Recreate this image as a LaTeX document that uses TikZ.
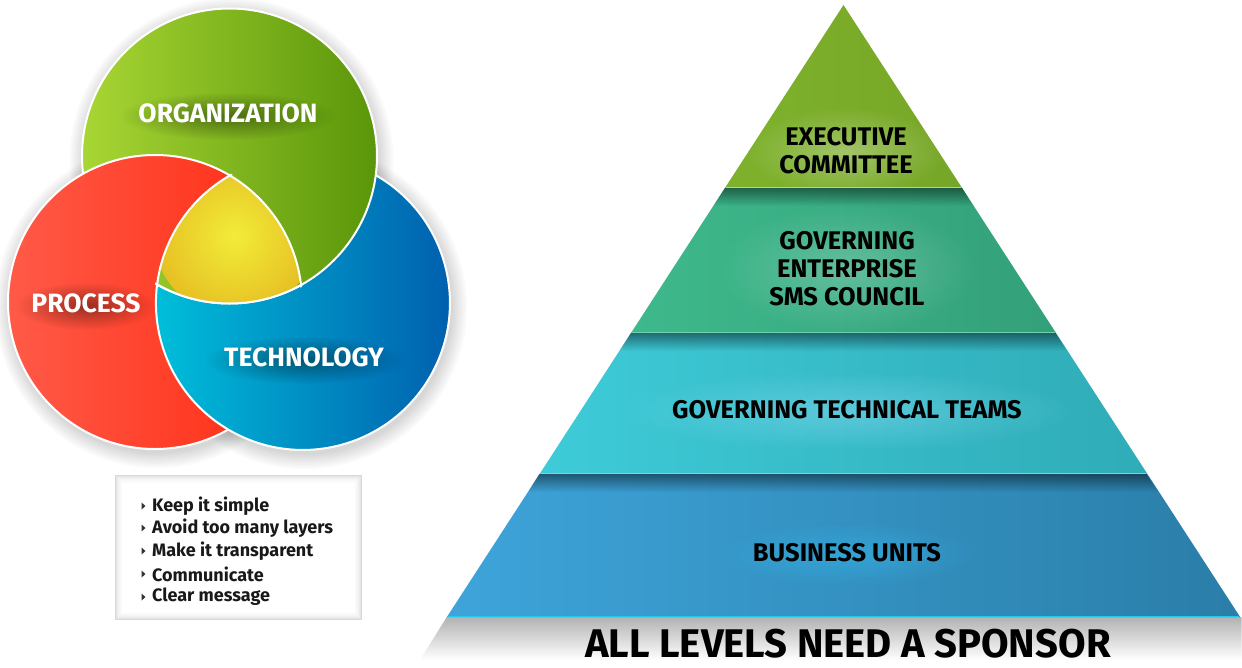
\documentclass[tikz,border=0pt]{standalone}
\usepackage{fontspec}
\setmainfont{Fira Sans}
\usetikzlibrary{fadings}
\definecolor{gA}{HTML}{A8D634}
\definecolor{gB}{HTML}{5A960A}
\definecolor{rA}{HTML}{FF5A48}
\definecolor{rB}{HTML}{FF2A10}
\definecolor{bA}{HTML}{00BEDA}
\definecolor{bB}{HTML}{0060AE}
\definecolor{yA}{HTML}{F2EC38}
\definecolor{yB}{HTML}{E6C024}
\definecolor{exL}{HTML}{7EB22C}
\definecolor{exM}{HTML}{98CA3E}
\definecolor{exR}{HTML}{76A626}
\definecolor{geL}{HTML}{3EB98C}
\definecolor{geM}{HTML}{42C292}
\definecolor{geR}{HTML}{33A079}
\definecolor{gtL}{HTML}{3ECBD8}
\definecolor{gtM}{HTML}{40CDDA}
\definecolor{gtR}{HTML}{2FACB7}
\definecolor{buL}{HTML}{3EA4DA}
\definecolor{buM}{HTML}{3898CC}
\definecolor{buR}{HTML}{2A7EA8}
\tikzfading[name=glowfade, inner color=transparent!0, outer color=transparent!100]
\tikzfading[name=topdark, top color=transparent!0, bottom color=transparent!100]
\begin{document}
\begin{tikzpicture}[x=1pt,y=-1pt,
  vlabel/.style={text=white, font=\bfseries\fontsize{26.5}{26.5}\selectfont, inner sep=0pt},
  plabel/.style={text=black, font=\bfseries\fontsize{25.5}{28}\selectfont, align=center, inner sep=0pt},
  listtext/.style={anchor=west, font=\bfseries\fontsize{18}{18}\selectfont, text=black!90, inner sep=0pt},
  outl/.style={draw=white, line width=2pt},
  bullet/.style={fill=black!80},
  hilite/.style={line width=1.5pt}]
\useasboundingbox (0,0) rectangle (1242,667);
\fill[white] (0,0) rectangle (1242,667);
\coordinate (cg) at (229.5,156);
\coordinate (cr) at (155,302);
\coordinate (cb) at (303,303);
\coordinate (bgtop) at (375.75,175.25);
% soft shadows of the circles
\foreach \cx/\cy in {229.5/156,155/302,303/303}{
  \foreach \r in {148,150,...,162}
    \fill[black, opacity=0.02] (\cx+2,\cy+4) circle (\r pt);
}
% green, red, blue
\shade[left color=gA, right color=gB] (cg) circle (147.5pt);
\draw[outl] (cg) circle (147.5pt);
\shade[left color=rA, right color=rB] (cr) circle (147pt);
\draw[outl] (cr) circle (147pt);
\shade[left color=bA, right color=bB] (cb) circle (147pt);
\begin{scope}
  \clip (cb) circle (147.8pt);
  \shade[left color=gA, right color=gB] (cg) circle (147.5pt);
  \draw[outl] (cg) circle (147.5pt);
\end{scope}
% blue outline only where blue is not under green
\draw[outl] (bgtop) arc[start angle=60.3, end angle=-187.2, radius=147pt];
\begin{scope}
  \clip (cb) circle (147pt);
  \clip (cr) circle (147pt);
  \clip (cg) circle (147.5pt);
  \shade[inner color=yA, outer color=yB] (234,236) circle (80pt);
\end{scope}
\begin{scope}
  \clip (cb) circle (149pt);
  \clip (cg) circle (149.5pt);
  \draw[outl] (cr) circle (147pt);
\end{scope}
\begin{scope}
  \clip (cr) circle (149pt);
  \clip (cg) circle (149.5pt);
  \draw[outl] (cb) circle (147pt);
\end{scope}
\begin{scope}
  \clip (cr) circle (149pt);
  \clip (cb) circle (149pt);
  \draw[outl] (cg) circle (147.5pt);
\end{scope}
% label glows
\fill[black, opacity=0.4, path fading=glowfade] (228,116) ellipse (108pt and 24pt);
\fill[black, opacity=0.4, path fading=glowfade] (86,306) ellipse (70pt and 24pt);
\fill[black, opacity=0.4, path fading=glowfade] (304,360) ellipse (100pt and 24pt);
\node[vlabel] (org) at (228,113) {ORGANIZATION};
\node[vlabel] (proc) at (86,303) {PROCESS};
\node[vlabel] (tech) at (304,357) {TECHNOLOGY};
% list box
\fill[gray!30] (115,475) rectangle (362,620);
\foreach \i in {1,...,6}
  \fill[white, opacity=0.3] (115+\i,475+\i) rectangle (362-\i,620-\i);
\fill[white] (122,483) rectangle (355,613);
\foreach \yy/\nm/\txt in {506/l1/Keep it simple, 528/l2/Avoid too many layers, 551/l3/Make it transparent, 574/l4/Communicate, 597/l5/Clear message}{
  \fill[bullet] (141.5,\yy-3.5) -- (145.5,\yy) -- (141.5,\yy+3.5) -- cycle;
  \node[listtext] (\nm) at (152,\yy) {\txt};
}
% shadow under pyramid
\fill[black, opacity=0.3, path fading=topdark] (446.9,617) -- (1242,617) -- (1242,660) -- (420,660) -- cycle;
% pyramid layers
\shade[left color=exL, middle color=exM, right color=exR] (843.5,5) -- (962.1,188) -- (724.9,188) -- cycle;
\shade[left color=geL, middle color=geM, right color=geR] (724.9,188) -- (962.1,188) -- (1056,333) -- (631,333) -- cycle;
\shade[left color=gtL, middle color=gtM, right color=gtR] (631,333) -- (1056,333) -- (1147.4,474) -- (539.6,474) -- cycle;
\shade[left color=buL, middle color=buM, right color=buR] (539.6,474) -- (1147.4,474) -- (1240.1,617) -- (446.9,617) -- cycle;
% label glows on pyramid (clipped to each layer)
\begin{scope}
  \clip (843.5,5) -- (962.1,188) -- (724.9,188) -- cycle;
  \fill[white, opacity=0.3, path fading=glowfade] (846,152) ellipse (100pt and 45pt);
\end{scope}
\begin{scope}
  \clip (724.9,188) -- (962.1,188) -- (1056,333) -- (631,333) -- cycle;
  \fill[white, opacity=0.22, path fading=glowfade] (847,269) ellipse (130pt and 65pt);
\end{scope}
\begin{scope}
  \clip (631,333) -- (1056,333) -- (1147.4,474) -- (539.6,474) -- cycle;
  \fill[cyan!40!white, opacity=0.4, path fading=glowfade] (847,411) ellipse (230pt and 40pt);
\end{scope}
\begin{scope}
  \clip (539.6,474) -- (1147.4,474) -- (1240.1,617) -- (446.9,617) -- cycle;
  \fill[cyan!80!white, opacity=0.45, path fading=glowfade] (847,554) ellipse (130pt and 32pt);
\end{scope}
% top shadows of layers
\fill[black, opacity=0.45, path fading=topdark] (724.9,188) -- (962.1,188) -- (973.8,206) -- (713.2,206) -- cycle;
\fill[black, opacity=0.45, path fading=topdark] (631,333) -- (1056,333) -- (1067.7,351) -- (619.3,351) -- cycle;
\fill[black, opacity=0.45, path fading=topdark] (539.6,474) -- (1147.4,474) -- (1159.1,492) -- (527.9,492) -- cycle;
% highlight lines
\draw[hilite, color=exM!70!white] (725.9,187.3) -- (961.1,187.3);
\draw[hilite, color=geM!75!white] (632,332.3) -- (1055,332.3);
\draw[hilite, color=gtM!75!white] (540.6,473.3) -- (1146.4,473.3);
\draw[hilite, color=buL!60!cyan] (448,616.3) -- (1239,616.3);
\node[plabel] (exec) at (846,151) {EXECUTIVE\\COMMITTEE};
\node[plabel] (gesms) at (847,269) {GOVERNING\\ENTERPRISE\\SMS COUNCIL};
\node[plabel] (gtt) at (847,410) {GOVERNING TECHNICAL TEAMS};
\node[plabel] (bu) at (847,553) {BUSINESS UNITS};
\node[text=black, font=\bfseries\fontsize{40}{40}\selectfont, inner sep=0pt, anchor=base] (sponsor) at (848,657) {ALL LEVELS NEED A SPONSOR};
\end{tikzpicture}
\end{document}
